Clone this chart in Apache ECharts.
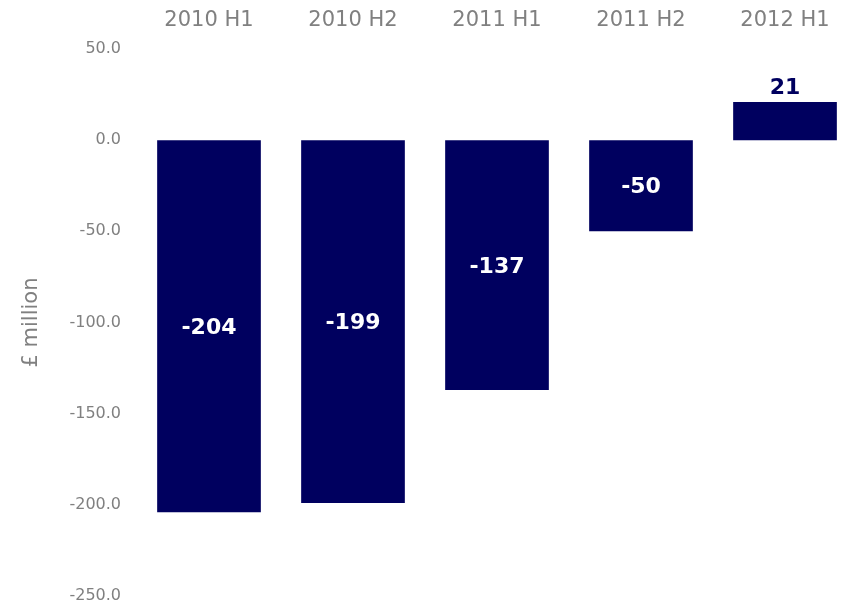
<!DOCTYPE html>
<html>
<head>
<meta charset="utf-8">
<script src="https://cdn.jsdelivr.net/npm/echarts@6/dist/echarts.min.js"></script>
<style>
  html, body { margin: 0; padding: 0; background: #fff; }
  #chart { width: 847px; height: 606px; }
</style>
</head>
<body>
<div id="chart"></div>
<script>
// Half-year periods and net result in £ million
const periods = ['2010 H1', '2010 H2', '2011 H1', '2011 H2', '2012 H1'];
const netValues = [-204, -199, -137, -50, 21];

const navy = '#00005f';
const grey = '#808080';
const font = 'DejaVu Sans, Verdana, sans-serif';

const chart = echarts.init(document.getElementById('chart'));
chart.setOption({
  animation: false,
  grid: {
    left: 137, right: -10, top: 49, bottom: 10,
    containLabel: false,
    outerBoundsMode: 'none'
  },
  xAxis: {
    type: 'category',
    position: 'top',
    data: periods,
    axisLine: { show: false },
    axisTick: { show: false },
    axisLabel: { color: grey, fontSize: 21, fontFamily: font, margin: 18 }
  },
  yAxis: {
    type: 'value',
    min: -250,
    max: 50,
    interval: 50,
    name: '£ million',
    nameLocation: 'middle',
    nameGap: 95,
    nameTextStyle: { color: grey, fontSize: 21, fontFamily: font },
    axisLine: { show: false },
    axisTick: { show: false },
    splitLine: { show: false },
    axisLabel: {
      color: grey, fontSize: 16, fontFamily: font, margin: 16,
      formatter: v => v.toFixed(1)
    }
  },
  series: [{
    type: 'bar',
    data: netValues.map(v => ({
      value: v,
      label: v >= 0
        ? { position: 'top', color: navy, distance: 3 }
        : { position: 'inside', color: '#fff', offset: [0, 2] }
    })),
    barWidth: '72%',
    itemStyle: { color: navy },
    label: {
      show: true,
      fontSize: 22,
      fontWeight: 'bold',
      fontFamily: font
    }
  }]
});
</script>
</body>
</html>
